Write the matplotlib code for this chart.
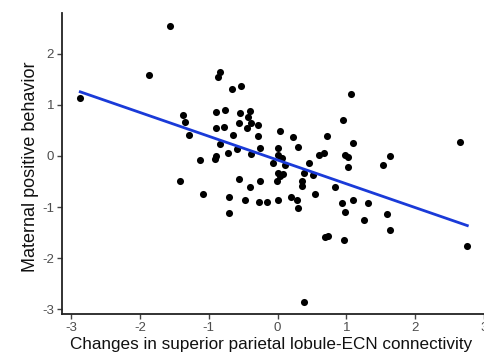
import matplotlib.pyplot as plt
import numpy as np

# changes in superior parietal lobule-ECN connectivity
conn = [-2.87, -1.57, -1.87, -1.38, -1.34, -1.29, -1.13, -1.42, -1.09, -0.71,
        -0.70, -0.56, -0.84, -0.86, -0.66, -0.53, -0.89, -0.76, -0.90, -0.78,
        -0.65, -0.84, -0.72, -0.59, -0.89, -0.91, -0.54, -0.56, -0.40, -0.43,
        -0.38, -0.29, -0.44, 0.03, -0.29, 0.22, -0.26, 0.01, 0.30, 0.01,
        0.06, 1.07, 0.95, 0.72, 1.09, 2.65, -0.38, 0.60, 0.68, 0.98,
        1.03, 1.64, 1.53, -0.06, 0.11, 0.45, 1.02, 0.38, 0.52, 0.01,
        0.08, 0.03, -0.25, -0.01, 0.35, 0.36, -0.40, -0.48, -0.27, -0.15,
        0.00, 0.20, 0.28, 0.29, 0.54, 0.84, 0.93, 0.98, 1.10, 1.31,
        1.25, 1.59, 1.64, 0.69, 0.73, 0.96, 2.76, 0.38]
# maternal positive behavior
behav = [1.14, 2.53, 1.58, 0.79, 0.67, 0.40, -0.09, -0.50, -0.74, -0.81,
         -1.12, -0.46, 1.63, 1.54, 1.30, 1.37, 0.85, 0.90, 0.54, 0.57,
         0.40, 0.23, 0.06, 0.13, -0.01, -0.07, 0.83, 0.65, 0.87, 0.75,
         0.64, 0.61, 0.55, 0.49, 0.38, 0.37, 0.15, 0.15, 0.17, 0.02,
         -0.04, 1.21, 0.70, 0.38, 0.25, 0.27, 0.04, 0.02, 0.05, 0.02,
         -0.02, 0.00, -0.18, -0.14, -0.18, -0.14, -0.21, -0.34, -0.37, -0.33,
         -0.35, -0.40, -0.49, -0.50, -0.50, -0.59, -0.61, -0.86, -0.91, -0.90,
         -0.87, -0.81, -0.86, -1.02, -0.75, -0.61, -0.92, -1.09, -0.86, -0.92,
         -1.25, -1.13, -1.45, -1.59, -1.56, -1.65, -1.77, -2.85]

x = np.array(conn)
y = np.array(behav)

plt.rcParams['font.family'] = ['Liberation Sans', 'DejaVu Sans']

fig = plt.figure(figsize=(4.84, 3.57), dpi=100)
ax = fig.add_axes([0.1275, 0.1204, 0.892, 0.843])

ax.scatter(x, y, s=26, color='black', linewidths=0, zorder=2)

# linear fit, like geom_smooth(method = "lm", se = FALSE)
slope, intercept = np.polyfit(x, y, 1)
xs = np.array([x.min(), x.max()])
ax.plot(xs, slope * xs + intercept, color='#1a3ad8', linewidth=2.0, zorder=3)

ax.set_xlim(-3.14, 3.14)
ax.set_ylim(-3.09, 2.79)
ax.set_xticks([-3, -2, -1, 0, 1, 2, 3])
ax.set_yticks([-3, -2, -1, 0, 1, 2])
ax.set_xticklabels(['-3', '-2', '-1', '0', '1', '2', '3'])
ax.set_yticklabels(['-3', '-2', '-1', '0', '1', '2'])

for side in ['top', 'right']:
    ax.spines[side].set_visible(False)
for side in ['left', 'bottom']:
    ax.spines[side].set_linewidth(1.3)
    ax.spines[side].set_color('#222222')

ax.tick_params(axis='both', length=3.5, width=1.0, color='#444444',
               labelcolor='#4d4d4d', labelsize=9.5, pad=2)

ax.set_xlabel('Changes in superior parietal lobule-ECN connectivity',
              fontsize=12.3, color='#111111')
ax.xaxis.set_label_coords(0.486, -0.078)
ax.set_ylabel('Maternal positive behavior', fontsize=13, color='#111111')
ax.yaxis.set_label_coords(-0.052, 0.49)

plt.savefig('out.png', dpi=100)
